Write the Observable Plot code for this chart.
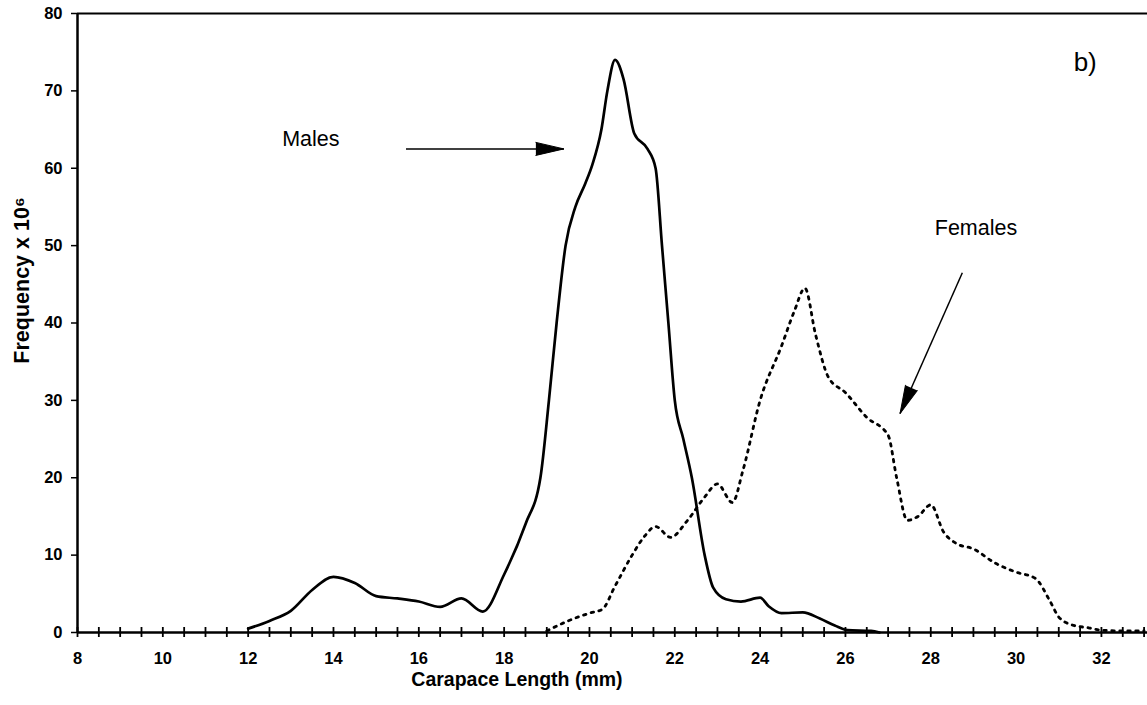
<!DOCTYPE html>
<html>
<head>
<meta charset="utf-8">
<script src="https://cdn.jsdelivr.net/npm/d3@7"></script>
<script src="https://cdn.jsdelivr.net/npm/@observablehq/plot@0.6"></script>
<style>
  html, body { margin: 0; padding: 0; background: #fff; }
  #chart svg { display: block; }
</style>
</head>
<body>
<div id="chart"></div>
<script>
// ---- data ----
const maleLength = [12.0, 12.5, 13.0, 13.5, 14.0, 14.5, 15.0, 15.5, 16.0, 16.5, 17.0, 17.5, 18.0, 18.5, 18.85, 19.05, 19.23, 19.44, 19.67, 19.9, 20.07, 20.28, 20.42, 20.6, 20.8, 21.05, 21.36, 21.55, 21.7, 21.85, 22.0, 22.2, 22.4, 22.7, 22.9, 23.2, 23.55, 24.0, 24.2, 24.5, 25.0, 25.4, 25.75, 26.05, 26.6, 26.8];
const maleFreq   = [0.5, 1.5, 2.8, 5.5, 7.2, 6.4, 4.7, 4.4, 4.0, 3.3, 4.4, 2.7, 7.5, 14.0, 20.0, 30.0, 40.0, 50.0, 55.0, 58.0, 60.5, 65.0, 70.0, 74.0, 71.5, 64.5, 62.5, 60.0, 50.0, 40.0, 30.0, 25.0, 20.0, 10.0, 5.8, 4.3, 4.0, 4.5, 3.4, 2.5, 2.6, 1.8, 0.9, 0.3, 0.2, 0.0];

const femaleLength = [19.0, 19.5, 20.0, 20.3, 20.6, 21.0, 21.3, 21.55, 21.9, 22.3, 22.7, 23.0, 23.35, 23.6, 24.0, 24.5, 24.8, 25.05, 25.3, 25.6, 26.0, 26.5, 27.0, 27.2, 27.45, 27.7, 28.0, 28.3, 28.6, 29.0, 29.5, 30.0, 30.45, 30.8, 31.0, 31.3, 31.7, 32.0, 32.5, 33.0];
const femaleFreq   = [0.2, 1.5, 2.5, 3.0, 6.0, 10.0, 12.5, 13.7, 12.3, 14.5, 17.5, 19.2, 16.8, 21.0, 30.0, 37.0, 41.5, 44.5, 38.5, 33.0, 31.0, 27.8, 25.5, 20.0, 14.5, 15.0, 16.5, 13.0, 11.5, 10.8, 9.0, 7.8, 7.0, 4.0, 2.0, 1.0, 0.6, 0.3, 0.2, 0.2];

const labelText = ["Males", "Females", "b)"];
const labelX    = [13.47, 29.06, 31.62];
const labelY    = [63.8, 52.2, 73.6];

const arrowX1 = [15.7, 28.74];
const arrowY1 = [62.5, 46.5];
const arrowX2 = [19.40, 27.28];
const arrowY2 = [62.5, 28.3];

const xTickLabels = [8, 10, 12, 14, 16, 18, 20, 22, 24, 26, 28, 30, 32];
const xMinorTicks = d3.range(8, 33.01, 0.5);
const yTickLabels = [0, 10, 20, 30, 40, 50, 60, 70, 80];

const xTitle = "Carapace Length (mm)";
const xTitleAt = 18.3;
const yTitle = "Frequency x 10\u2076";
const yTitleAt = 45.5;

// ---- layout ----
const W = 1147, H = 705;
const mL = 77, mR = 0, mT = 13, mB = 73;
const xDomain = [8, 33.08], yDomain = [0, 80];
const innerH = H - mT - mB;

const males = maleLength.map((x, i) => ({x, y: maleFreq[i]}));
const females = femaleLength.map((x, i) => ({x, y: femaleFreq[i]}));
const labels = labelText.map((t, i) => ({t, x: labelX[i], y: labelY[i]}));

const sx = d3.scaleLinear(xDomain, [mL, W - mR]);
const sy = d3.scaleLinear(yDomain, [H - mB, mT]);
const arrows = arrowX1.map((x1, i) => {
  const dx = sx(arrowX2[i]) - sx(x1), dy = sy(arrowY2[i]) - sy(arrowY1[i]);
  return {x1, y1: arrowY1[i], x2: arrowX2[i], y2: arrowY2[i],
          angle: Math.atan2(dx, -dy) * 180 / Math.PI};
});

const font = "Liberation Sans, Arial, Helvetica, sans-serif";

const chart = Plot.plot({
  width: W, height: H,
  marginLeft: mL, marginRight: mR, marginTop: mT, marginBottom: mB,
  style: {fontFamily: font, background: "#fff", color: "#000"},
  x: {domain: xDomain},
  y: {domain: yDomain},
  marks: [
    // frame lines
    Plot.ruleY([0], {strokeWidth: 2.5}),
    Plot.ruleY([80], {strokeWidth: 2}),
    Plot.ruleX([8], {strokeWidth: 2.5}),
    // minor cross ticks on x axis
    Plot.tickX(xMinorTicks, {x: d => d, insetTop: innerH - 5, insetBottom: -5, strokeWidth: 1.8}),
    // x tick labels
    Plot.axisX({ticks: xTickLabels, tickSize: 0, tickPadding: 20, fontSize: 16.5, fontWeight: "bold", label: null}),
    // y ticks and labels
    Plot.axisY({ticks: yTickLabels, tickSize: 6, tickPadding: 9, fontSize: 16.5, fontWeight: "bold", label: null, strokeWidth: 1.5}),
    // axis titles
    Plot.text([yTitle], {y: yTitleAt, frameAnchor: "left", dx: -55, rotate: -90, textAnchor: "middle", fontSize: 21.5, fontWeight: "bold", text: d => d}),
    Plot.text([xTitle], {x: xTitleAt, frameAnchor: "bottom", dy: 53, fontSize: 19.5, fontWeight: "bold", text: d => d}),
    // curves
    Plot.line(males, {x: "x", y: "y", curve: "monotone-x", stroke: "#000", strokeWidth: 2.7}),
    Plot.line(females, {x: "x", y: "y", curve: "monotone-x", stroke: "#000", strokeWidth: 2.8, strokeDasharray: "2.5,5.5"}),
    // annotations
    Plot.text(labels, {x: "x", y: "y", text: "t", fontSize: d => d.t === "b)" ? 26 : 21.5}),
    Plot.link(arrows, {x1: "x1", y1: "y1", x2: "x2", y2: "y2", stroke: "#000", strokeWidth: 1.5}),
    Plot.vector(arrows, {x: "x2", y: "y2", rotate: "angle", length: 28, r: 6.5, shape: "spike", anchor: "end", fill: "#000", stroke: "#000", strokeWidth: 1})
  ]
});
document.getElementById("chart").appendChild(chart);
</script>
</body>
</html>
